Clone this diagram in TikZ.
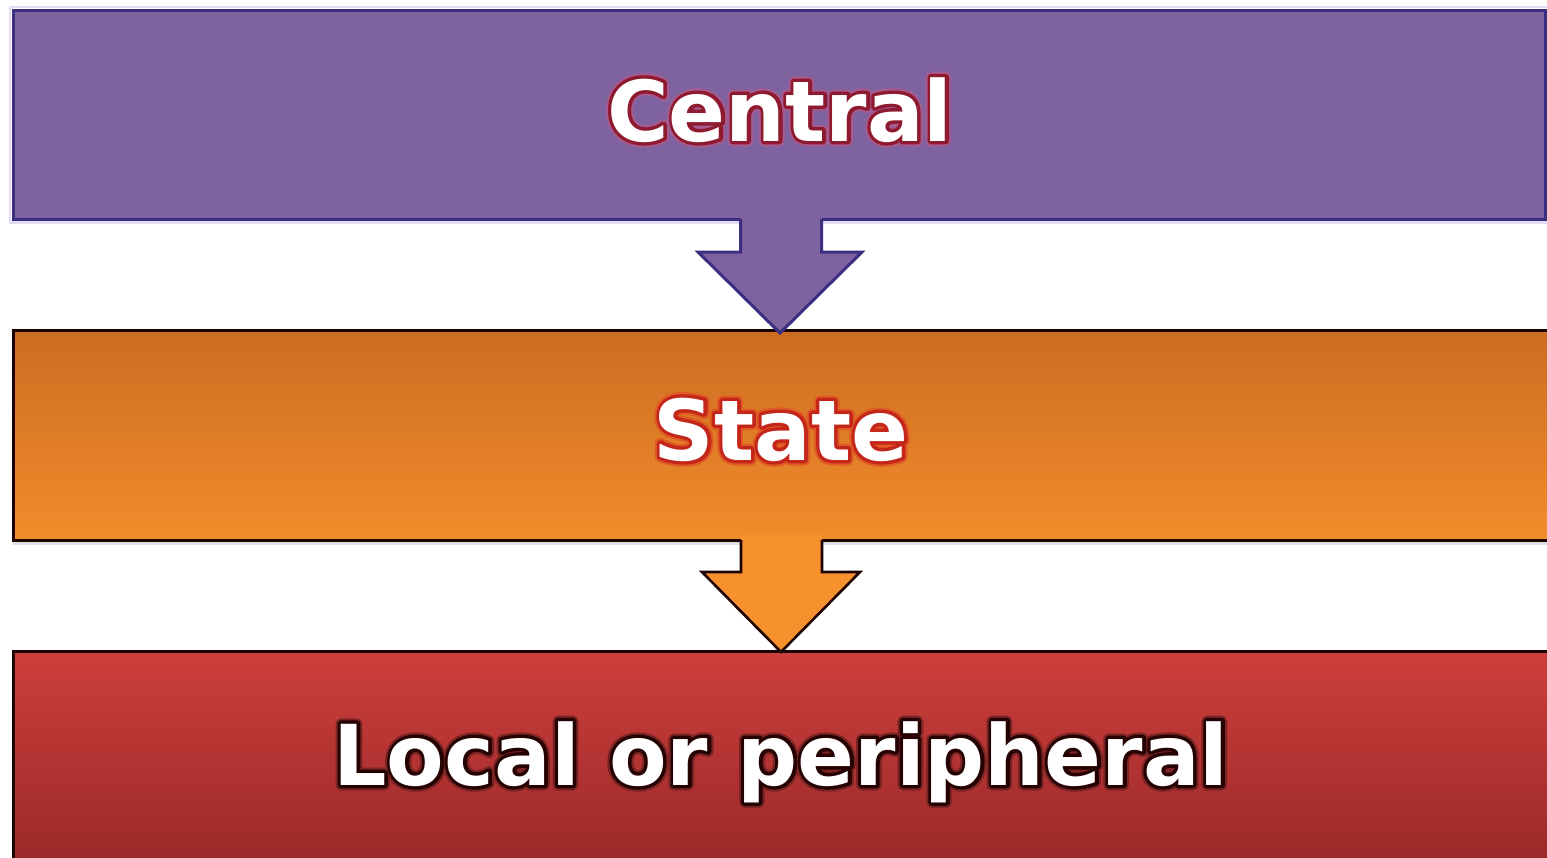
\documentclass[tikz,border=0pt]{standalone}
\usepackage{fontspec}
\setmainfont{DejaVu Sans}
\usetikzlibrary{shadows}
\definecolor{purpfill}{HTML}{7F63A1}
\definecolor{purpline}{HTML}{3C2F80}
\definecolor{purpglow}{HTML}{E2DCF6}
\definecolor{orgtop}{HTML}{CB6C22}
\definecolor{orgbot}{HTML}{F38C2B}
\definecolor{orgarrow}{HTML}{F7912D}
\definecolor{redtop}{HTML}{CD3F3C}
\definecolor{redmid}{HTML}{B53639}
\definecolor{redbot}{HTML}{962727}
\definecolor{darkline}{HTML}{1E0202}
\definecolor{outcentral}{HTML}{8E1A30}
\definecolor{glowcentral}{HTML}{A65A8E}
\definecolor{outstate}{HTML}{C4261A}
\definecolor{glowstate}{HTML}{E05A24}
\definecolor{outlocal}{HTML}{260202}
\definecolor{glowlocal}{HTML}{7A2424}
% #1 glow colour, #2 outline colour, #3 text
\newcommand\outlinedtext[3]{\leavevmode
  \rlap{\color{#1}\special{pdf:code 2 Tr 5.5 w 1 j}#3\special{pdf:code 0 Tr}}%
  \rlap{\color{#2}\special{pdf:code 2 Tr 3.4 w 1 j}#3\special{pdf:code 0 Tr}}%
  {\color{white}#3}}
\tikzset{
  boxbase/.style={rectangle, anchor=north west, inner sep=0pt, outer sep=0pt},
  boxone/.style={boxbase, fill=purpfill, draw=purpline, line width=1.5pt},
  boxtwo/.style={boxbase, top color=orgtop, bottom color=orgbot, draw=darkline, line width=1.5pt,
    drop shadow={shadow xshift=0pt, shadow yshift=-2.5pt, opacity=0.25}},
  boxthree/.style={boxbase, top color=redtop, middle color=redmid, bottom color=redbot, draw=darkline, line width=1.5pt},
  lbl/.style={anchor=base, inner sep=0pt, font=\bfseries\fontsize{42}{50}\selectfont},
  arrowfillone/.style={fill=purpfill},
  arrowlineone/.style={draw=purpline, line width=1.5pt, line join=miter},
  arrowfilltwo/.style={fill=orgarrow},
  arrowlinetwo/.style={draw=darkline, line width=1.3pt, line join=miter}
}
\begin{document}
\begin{tikzpicture}[x=0.5pt,y=-0.5pt]
\useasboundingbox (0,0) rectangle (1547,857);
\fill[white] (0,0) rectangle (1547,857);
\begin{scope}
\clip (0,0) rectangle (1547,857);
% glow around top box
\draw[purpglow, line width=1.2pt] (10,7) rectangle (1548,222.5);
% boxes
\node[boxone, minimum width=766pt, minimum height=104.5pt] (central) at (13,10) {};
\node[boxtwo, minimum width=779pt, minimum height=105pt] (state) at (13,330) {};
\node[boxthree, minimum width=779pt, minimum height=115pt] (local) at (13,651) {};
% arrow 1
\fill[arrowfillone] (740.5,214) -- (740.5,252) -- (698,252) -- (780,333) -- (862,252) -- (821.5,252) -- (821.5,214) -- cycle;
\draw[arrowlineone] (740.5,219) -- (740.5,252) -- (698,252) -- (780,333) -- (862,252) -- (821.5,252) -- (821.5,219);
% arrow 2
\fill[arrowfilltwo] (741,535) -- (741,572) -- (702,572) -- (781,652) -- (860,572) -- (822,572) -- (822,535) -- cycle;
\draw[arrowlinetwo] (741,540) -- (741,572) -- (702,572) -- (781,652) -- (860,572) -- (822,572) -- (822,540);
% labels
\node[lbl] (tcentral) at (780,141) {\outlinedtext{glowcentral}{outcentral}{Central}};
\node[lbl] (tstate) at (781,460) {\outlinedtext{glowstate}{outstate}{State}};
\node[lbl] (tlocal) at (781,785) {\outlinedtext{glowlocal}{outlocal}{Local or peripheral}};
\end{scope}
\end{tikzpicture}
\end{document}
